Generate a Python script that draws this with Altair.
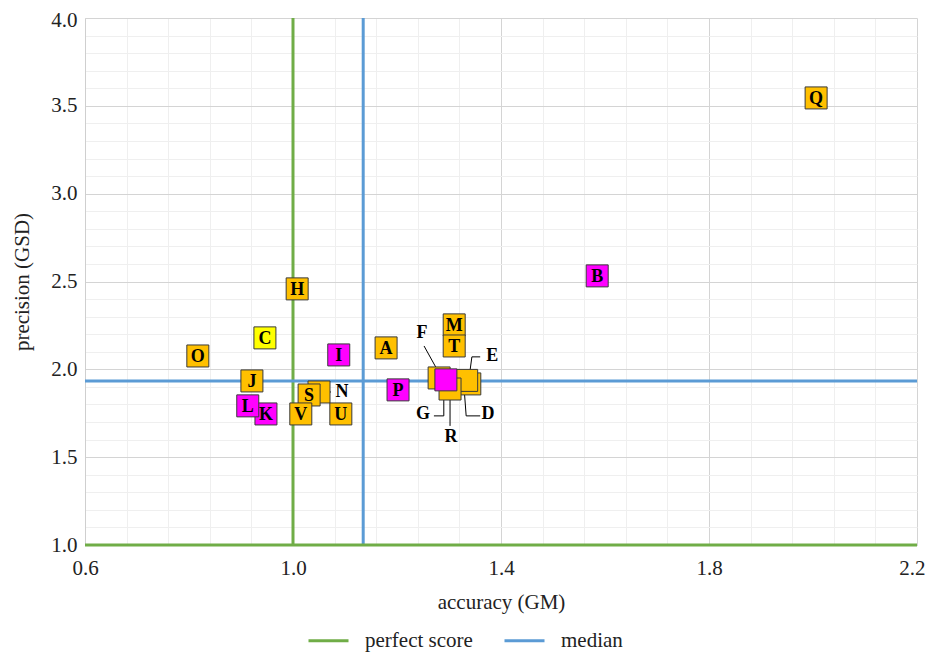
import altair as alt
import pandas as pd

# ---- data ----
names = ["A", "B", "C", "D", "E", "F", "G", "H", "I", "J", "K",
         "L", "M", "N", "O", "P", "Q", "R", "S", "T", "U", "V"]
accuracy_gm = [1.179, 1.585, 0.946, 1.340, 1.334, 1.281, 1.302, 1.008, 1.088, 0.921, 0.948,
               0.913, 1.310, 1.050, 0.817, 1.202, 2.006, 1.294, 1.031, 1.310, 1.092, 1.015]
precision_gsd = [2.122, 2.532, 2.179, 1.917, 1.937, 1.951, 1.888, 2.458, 2.082, 1.934, 1.746,
                 1.792, 2.253, 1.871, 2.076, 1.883, 3.545, 1.940, 1.854, 2.133, 1.746, 1.746]
groups = ["orange", "magenta", "yellow", "orange", "orange", "orange", "orange", "orange",
          "magenta", "orange", "magenta", "magenta", "orange", "orange", "orange", "magenta",
          "orange", "magenta", "orange", "orange", "orange", "orange"]

# callout labels (placed outside their crowded markers)
callout_names = ["F", "G", "R", "D", "E", "N"]
callout_x = [1.248, 1.250, 1.304, 1.375, 1.383, 1.094]
callout_y = [2.207, 1.746, 1.615, 1.746, 2.076, 1.871]

# leader lines: (callout, order, x, y)
leader_id = ["F", "F", "G", "G", "G", "R", "R", "D", "D", "D", "E", "E", "E", "N", "N"]
leader_ord = [0, 1, 0, 1, 2, 0, 1, 0, 1, 2, 0, 1, 2, 0, 1]
leader_x = [1.252, 1.285, 1.271, 1.290, 1.290, 1.302, 1.302, 1.360, 1.333, 1.329,
            1.360, 1.344, 1.337, 1.052, 1.073]
leader_y = [2.133, 1.957, 1.735, 1.735, 1.900, 1.678, 1.871, 1.735, 1.735, 1.894,
            2.071, 2.071, 1.917, 1.871, 1.871]

# reference lines
ref_series = ["perfect score", "median"]
ref_x = [1.0, 1.135]
ref_y = [1.0, 1.934]

# ticks
x_grid = [0.6, 0.68, 0.76, 0.84, 0.92, 1.0, 1.08, 1.16, 1.24, 1.32, 1.4, 1.48, 1.56,
          1.64, 1.72, 1.8, 1.88, 1.96, 2.04, 2.12, 2.2]
y_grid = [1.0, 1.1, 1.2, 1.3, 1.4, 1.5, 1.6, 1.7, 1.8, 1.9, 2.0, 2.1, 2.2, 2.3, 2.4, 2.5,
          2.6, 2.7, 2.8, 2.9, 3.0, 3.1, 3.2, 3.3, 3.4, 3.5, 3.6, 3.7, 3.8, 3.9, 4.0]
x_major_step = 0.4
y_major_step = 0.5

pts = pd.DataFrame({"name": names, "gm": accuracy_gm, "gsd": precision_gsd, "group": groups})
pts["inlabel"] = [("" if n in callout_names else n) for n in names]
callouts = pd.DataFrame({"name": callout_names, "gm": callout_x, "gsd": callout_y})
leaders = pd.DataFrame({"id": leader_id, "ord": leader_ord, "gm": leader_x, "gsd": leader_y})
vrules = pd.DataFrame({"series": ref_series, "gm": ref_x})
hrules = pd.DataFrame({"series": ref_series, "gsd": ref_y})

FONT = "Liberation Serif"
xtest = f"abs((datum.value-0.6)/{x_major_step} - round((datum.value-0.6)/{x_major_step})) < 0.001"
ytest = f"abs(datum.value/{y_major_step} - round(datum.value/{y_major_step})) < 0.001"

xscale = alt.Scale(domain=[0.6, 2.2], nice=False, zero=False)
yscale = alt.Scale(domain=[1.0, 4.0], nice=False, zero=False)

xaxis = alt.Axis(
    title="accuracy (GM)", values=x_grid, ticks=False, labelFlush=False, labelOverlap=False,
    labelExpr=f"({xtest}) ? format(datum.value, '.1f') : ''",
    labelAlign={"condition": {"test": "datum.value > 2.1", "value": "right"}, "value": "center"},
    labelOffset={"condition": {"test": "datum.value > 2.1", "value": 8}, "value": 0},
    gridColor={"condition": {"test": xtest, "value": "#d4d4d4"}, "value": "#efefef"},
    labelPadding=12, titlePadding=13,
)
yaxis = alt.Axis(
    title="precision (GSD)", values=y_grid, ticks=False, labelOverlap=False, labelFlush=False,
    labelExpr=f"({ytest}) ? format(datum.value, '.1f') : ''",
    labelOffset={"condition": {"test": "datum.value > 3.95", "value": 2}, "value": 0},
    gridColor={"condition": {"test": ytest, "value": "#d4d4d4"}, "value": "#efefef"},
    labelPadding=8, titlePadding=18,
)

color = alt.Color(
    "series:N",
    scale=alt.Scale(domain=ref_series, range=["#70AD47", "#5B9BD5"]),
    legend=alt.Legend(title=None, orient="none", direction="horizontal",
                      legendX=222, legendY=601, symbolType="stroke", symbolSize=1600,
                      symbolStrokeWidth=3, labelFont=FONT, labelFontSize=21,
                      labelColor="#222", columnPadding=25, labelOffset=15),
)

X = alt.X("gm:Q", scale=xscale, axis=xaxis)
Y = alt.Y("gsd:Q", scale=yscale, axis=yaxis)

vlayer = alt.Chart(vrules).mark_rule(strokeWidth=3).encode(x=X, color=color)
hlayer = alt.Chart(hrules).mark_rule(strokeWidth=3).encode(y=Y, color=color)

lead = alt.Chart(leaders).mark_line(color="#000", strokeWidth=1).encode(
    x=X, y=Y, detail="id:N", order="ord:Q")

squares = alt.Chart(pts).mark_point(shape="square", filled=True, size=484, opacity=1,
                                     stroke="#3a3a3a", strokeWidth=1).encode(
    x=X, y=Y,
    fill=alt.Fill("group:N", scale=alt.Scale(domain=["orange", "magenta", "yellow"],
                                             range=["#FFC000", "#FF00FF", "#FFFF00"]),
                  legend=None),
    order=alt.Order("name:N"),
)

inlabels = alt.Chart(pts).mark_text(font=FONT, fontWeight="bold", fontSize=18,
                                    color="#000", baseline="middle", align="center", dy=1).encode(
    x=X, y=Y, text="inlabel:N")

outlabels = alt.Chart(callouts).mark_text(font=FONT, fontWeight="bold", fontSize=18,
                                          color="#000", baseline="middle", align="center").encode(
    x=X, y=Y, text="name:N")

chart = alt.layer(vlayer, hlayer, lead, squares, inlabels, outlabels).properties(
    width=832, height=527,
    autosize=alt.AutoSizeParams(type="none"),
    padding={"left": 77, "top": 10, "right": 8, "bottom": 115},
).configure_view(strokeWidth=0).configure_axis(
    labelFont=FONT, labelFontSize=21, labelColor="#222", labelOverlap=False,
    titleFont=FONT, titleFontSize=21, titleColor="#222", titleFontWeight="normal",
    domainColor="#cfcfcf",
)

chart.save("out.html", embed_options={"renderer": "svg", "actions": False})
